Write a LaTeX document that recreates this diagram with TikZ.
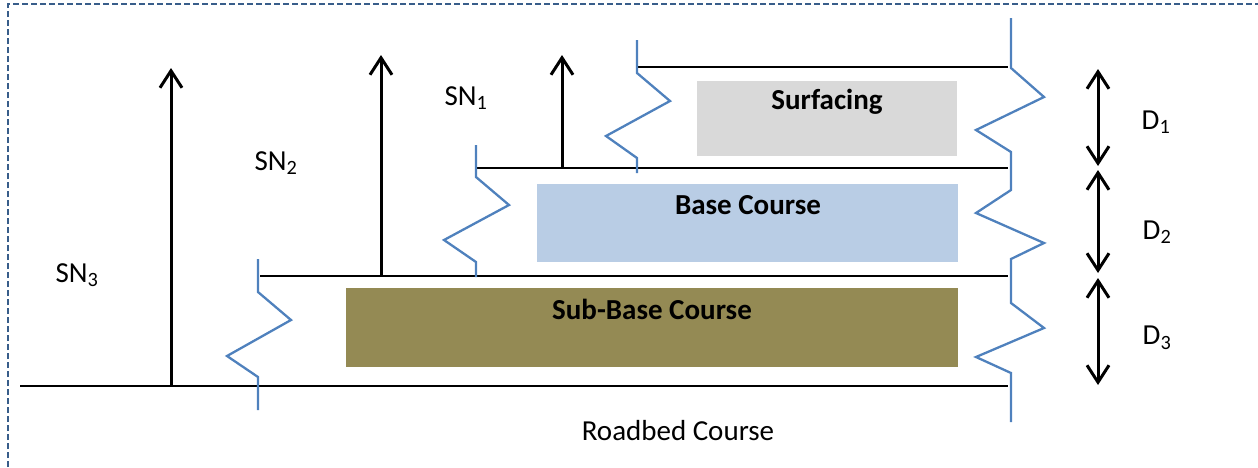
\documentclass[tikz,border=0pt]{standalone}
\usepackage{fontspec}
\setmainfont{Carlito}
\usetikzlibrary{arrows.meta}

\definecolor{breakblue}{HTML}{4F81BD}
\definecolor{framedash}{HTML}{385D8A}
\definecolor{surfgray}{HTML}{D9D9D9}
\definecolor{baseblue}{HTML}{B9CDE5}
\definecolor{subolive}{HTML}{948A54}

\tikzset{
  layerline/.style={black,line width=2.3pt},
  breakline/.style={breakblue,line width=2.3pt,line join=miter},
  snarrow/.style={black,line width=3pt,-{Straight Barb[length=17pt,width=22pt,line width=3pt]}},
  darrow/.style={black,line width=3pt,{Straight Barb[length=17pt,width=22pt,line width=3pt]}-{Straight Barb[length=17pt,width=22pt,line width=3pt]}},
  layerbox/.style={draw=none,inner sep=0pt},
  lbl/.style={font=\fontsize{29}{34}\selectfont,inner sep=0pt},
  boxlbl/.style={font=\fontsize{29}{34}\selectfont\bfseries,inner sep=0pt}
}

\begin{document}
\begin{tikzpicture}[x=1pt,y=-1pt]
    \useasboundingbox (0,0) rectangle (1258,467);
    \draw[framedash,line width=2.6pt,dash pattern=on 6pt off 3pt] (8,467) -- (8,4) -- (1258,4);

    % layer boxes
    \node[layerbox,fill=surfgray,minimum width=260pt,minimum height=75pt] (surf) at (827,118.5) {};
    \node[layerbox,fill=baseblue,minimum width=421pt,minimum height=78pt] (base) at (747.5,223) {};
    \node[layerbox,fill=subolive,minimum width=612pt,minimum height=79pt] (sub) at (652,327.5) {};
    \node[boxlbl] (surftxt) at (827,102) {Surfacing};
    \node[boxlbl] (basetxt) at (748,205) {Base Course};
    \node[boxlbl] (subtxt) at (652,309) {Sub-Base Course};

    % layer tops
    \coordinate (t1l) at (637,67);   \coordinate (t1r) at (1008,67);
    \coordinate (t2l) at (476,168);  \coordinate (t2r) at (1008,168);
    \coordinate (t3l) at (260,276);  \coordinate (t3r) at (1008,276);
    \coordinate (t4l) at (20,386);   \coordinate (t4r) at (1008,386);
    \foreach \i in {1,2,3,4}
        \draw[layerline] (t\i l) -- (t\i r);

    % break lines
    \draw[breakline] (637,40) -- (637,73) -- (670,101) -- (606,136) -- (637,158) -- (637,173);
    \draw[breakline] (476,145) -- (476,177) -- (509,205) -- (444,240) -- (476,262) -- (476,277);
    \draw[breakline] (258,259) -- (258,292) -- (291,320) -- (227,356) -- (258,377) -- (258,410);
    \draw[breakline] (1011,18) -- (1011,68) -- (1044,97) -- (976,130) -- (1011,152)
        -- (1011,190) -- (976,213) -- (1044,243) -- (1011,259)
        -- (1011,303) -- (1044,328) -- (976,357) -- (1011,373) -- (1011,422);

    % structural numbers
    \coordinate (sn1b) at (562,168); \coordinate (sn1t) at (562,55);
    \coordinate (sn2b) at (381,276); \coordinate (sn2t) at (381,55);
    \coordinate (sn3b) at (171,386); \coordinate (sn3t) at (171,68);
    \foreach \i in {1,2,3}
        \draw[snarrow] (sn\i b) -- (sn\i t);
    \node[lbl] (sn1) at (466,98) {SN\textsubscript{1}};
    \node[lbl] (sn2) at (276,163) {SN\textsubscript{2}};
    \node[lbl] (sn3) at (77,275) {SN\textsubscript{3}};

    % thicknesses
    \coordinate (d1t) at (1098,69);  \coordinate (d1b) at (1098,166);
    \coordinate (d2t) at (1098,170); \coordinate (d2b) at (1098,273);
    \coordinate (d3t) at (1098,278); \coordinate (d3b) at (1098,385);
    \foreach \i in {1,2,3}
        \draw[darrow] (d\i t) -- (d\i b);
    \node[lbl] (d1) at (1156,122) {D\textsubscript{1}};
    \node[lbl] (d2) at (1157,232) {D\textsubscript{2}};
    \node[lbl] (d3) at (1157,338) {D\textsubscript{3}};

    \node[lbl] (roadbed) at (678,431) {Roadbed Course};
\end{tikzpicture}
\end{document}
